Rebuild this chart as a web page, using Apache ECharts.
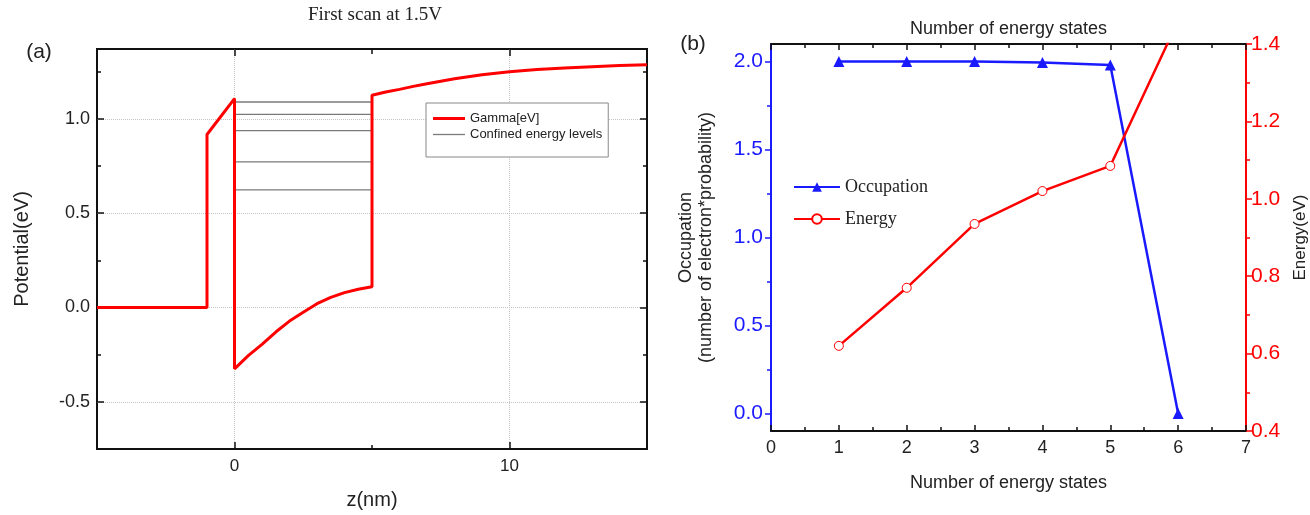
<!DOCTYPE html>
<html><head><meta charset="utf-8">
<script src="https://cdn.jsdelivr.net/npm/echarts@6/dist/echarts.min.js"></script>
<style>html,body{margin:0;padding:0;background:#fff}#c{width:1310px;height:515px}</style>
</head><body><div id="c"></div>
<script>
// ---------- Panel (a) data ----------
const gammaZ = [-5,-1,-1,0,0,0.5,1,1.5,2,2.5,3,3.5,4,4.5,5,5,5.5,6,6.5,7,8,9,10,11,12,13,14,15];
const gammaV = [0,0,0.917,1.107,-0.325,-0.255,-0.195,-0.13,-0.072,-0.025,0.02,0.054,0.079,0.097,0.11,1.125,1.142,1.156,1.172,1.186,1.212,1.234,1.25,1.261,1.269,1.276,1.282,1.286];
const confinedLevels = [0.623,0.772,0.937,1.023,1.089];
const wellEdges = [0,5];
const zTicks = [0,10];
const zMinorTicks = [5];
const potTicks = [-0.5,0,0.5,1.0];
const potMinorTicks = [-0.25,0.25,0.75,1.25];
// ---------- Panel (b) data ----------
const states = [1,2,3,4,5,6];
const occupation = [2.0,2.0,2.0,1.995,1.98,0.0];
const energy = [0.62,0.77,0.935,1.02,1.085,1.46];
const occTicks = [0,0.5,1.0,1.5,2.0];
const occMinorTicks = [0.25,0.75,1.25,1.75];

const SANS = 'Liberation Sans, Arial, sans-serif';
const SERIF = 'Liberation Serif, Times New Roman, serif';
const BLACK = '#111';
const TXT = '#222';
const BLUE = '#1a1aff';
const RED = '#ff0000';
const GRAY = '#7a7a7a';
const dotted = {show:true, lineStyle:{type:'dotted', color:'#c4c4c4', width:1}};

function tickAxis(extra){
  return Object.assign({
    type:'value', axisLine:{show:false, onZero:false},
    axisLabel:{show:false}, splitLine:{show:false}
  }, extra);
}

const chart = echarts.init(document.getElementById('c'), null, {renderer:'canvas'});
const option = {
  animation:false,
  backgroundColor:'#fff',
  title:[
    {text:'First scan at 1.5V', left:375, top:6, textAlign:'center', padding:0,
     textStyle:{fontFamily:SERIF, fontSize:19, fontWeight:'normal', color:TXT}},
    {text:'(a)', left:39, top:42, textAlign:'center', padding:0,
     textStyle:{fontFamily:SANS, fontSize:21, fontWeight:'normal', color:TXT}},
    {text:'(b)', left:693, top:34, textAlign:'center', padding:0,
     textStyle:{fontFamily:SANS, fontSize:21, fontWeight:'normal', color:TXT}}
  ],
  grid:[
    {left:97, top:49, width:550, height:405, show:true, borderColor:BLACK, borderWidth:2, containLabel:false},
    {left:771, top:44, width:475, height:387, show:false, containLabel:false}
  ],
  legend:[
    {data:[{name:'Gamma[eV]', icon:'path://M0,0h32v3h-32z'},
           {name:'Confined energy levels', icon:'path://M0,0h32v1.3h-32z'}],
     orient:'vertical', left:426, top:103,
     itemWidth:32, itemHeight:14, itemGap:3, padding:[9,6,16,7], symbolKeepAspect:true,
     borderColor:'#888', borderWidth:1, backgroundColor:'#fff',
     textStyle:{fontFamily:SANS, fontSize:13, color:TXT}},
    {data:['Occupation','Energy'], orient:'vertical', left:793, top:178,
     itemWidth:46, itemHeight:12, itemGap:14, padding:0,
     textStyle:{fontFamily:SERIF, fontSize:18, color:TXT}}
  ],
  xAxis:[
    // 0: panel a bottom major
    {gridIndex:0, type:'value', min:-5, max:15, position:'bottom',
     axisLine:{show:false, onZero:false},
     axisTick:{inside:true, length:7, customValues:zTicks, lineStyle:{color:BLACK, width:1.5}},
     axisLabel:{customValues:zTicks, margin:9, fontFamily:SANS, fontSize:17, color:TXT},
     splitLine:dotted,
     name:'z(nm)', nameLocation:'middle', nameGap:41,
     nameTextStyle:{fontFamily:SANS, fontSize:20, color:TXT}},
    // 1: panel a bottom minor
    tickAxis({gridIndex:0, min:-5, max:15, position:'bottom',
     axisTick:{inside:true, length:4, customValues:zMinorTicks, lineStyle:{color:BLACK, width:1.5}}}),
    // 2: panel a top major
    tickAxis({gridIndex:0, min:-5, max:15, position:'top',
     axisTick:{inside:true, length:7, customValues:zTicks, lineStyle:{color:BLACK, width:1.5}}}),
    // 3: panel a top minor
    tickAxis({gridIndex:0, min:-5, max:15, position:'top',
     axisTick:{inside:true, length:5, customValues:zMinorTicks, lineStyle:{color:BLACK, width:1.5}}}),
    // 4: panel b bottom
    {gridIndex:1, type:'value', min:0, max:7, interval:1, position:'bottom',
     axisLine:{show:true, onZero:false, lineStyle:{color:BLACK, width:2}},
     axisTick:{inside:true, length:6, lineStyle:{color:BLACK, width:1.5}},
     minorTick:{show:true, splitNumber:2, length:4, lineStyle:{color:BLACK, width:1.5}},
     axisLabel:{margin:8, showMinLabel:true, showMaxLabel:true, fontFamily:SANS, fontSize:18, color:TXT},
     splitLine:{show:false},
     name:'Number of energy states', nameLocation:'middle', nameGap:43,
     nameTextStyle:{fontFamily:SANS, fontSize:18, color:TXT}},
    // 5: panel b top
    {gridIndex:1, type:'value', min:0, max:7, interval:1, position:'top',
     axisLine:{show:true, onZero:false, lineStyle:{color:BLACK, width:2}},
     axisTick:{inside:true, length:6, lineStyle:{color:BLACK, width:1.5}},
     minorTick:{show:true, splitNumber:2, length:4, lineStyle:{color:BLACK, width:1.5}},
     axisLabel:{show:false}, splitLine:{show:false},
     name:'Number of energy states', nameLocation:'middle', nameGap:6,
     nameTextStyle:{fontFamily:SANS, fontSize:18, color:TXT}}
  ],
  yAxis:[
    // 0: panel a left major
    {gridIndex:0, type:'value', min:-0.75, max:1.37, position:'left',
     axisLine:{show:false, onZero:false},
     axisTick:{inside:true, length:7, customValues:potTicks, lineStyle:{color:BLACK, width:1.5}},
     axisLabel:{customValues:potTicks, margin:7, fontFamily:SANS, fontSize:18, color:TXT,
       formatter:v=>Number(v).toFixed(1)},
     splitLine:dotted,
     name:'Potential(eV)', nameLocation:'middle', nameGap:65,
     nameTextStyle:{fontFamily:SANS, fontSize:20, color:TXT}},
    // 1: panel a left minor
    tickAxis({gridIndex:0, min:-0.75, max:1.37, position:'left',
     axisTick:{inside:true, length:4, customValues:potMinorTicks, lineStyle:{color:BLACK, width:1.5}}}),
    // 2: panel a right major
    tickAxis({gridIndex:0, min:-0.75, max:1.37, position:'right',
     axisTick:{inside:true, length:7, customValues:potTicks, lineStyle:{color:BLACK, width:1.5}}}),
    // 3: panel a right minor
    tickAxis({gridIndex:0, min:-0.75, max:1.37, position:'right',
     axisTick:{inside:true, length:4, customValues:potMinorTicks, lineStyle:{color:BLACK, width:1.5}}}),
    // 4: panel b left (occupation)
    {gridIndex:1, type:'value', min:-0.1, max:2.1, position:'left',
     axisLine:{show:true, onZero:false, lineStyle:{color:BLUE, width:2}},
     axisTick:{inside:false, length:6, customValues:occTicks, lineStyle:{color:BLUE, width:1.5}},
     axisLabel:{customValues:occTicks, margin:8, fontFamily:SANS, fontSize:21, color:BLUE,
       formatter:v=>Number(v).toFixed(1)},
     splitLine:{show:false},
     name:'Occupation\n(number of electron*probability)', nameLocation:'middle', nameGap:55,
     nameTextStyle:{fontFamily:SANS, fontSize:18, lineHeight:20, color:TXT}},
    // 5: panel b left minor
    tickAxis({gridIndex:1, min:-0.1, max:2.1, position:'left',
     axisTick:{inside:false, length:4, customValues:occMinorTicks, lineStyle:{color:BLUE, width:1.5}}}),
    // 6: panel b right (energy)
    {gridIndex:1, type:'value', min:0.4, max:1.4, interval:0.2, position:'right',
     axisLine:{show:true, onZero:false, lineStyle:{color:RED, width:2}},
     axisTick:{inside:false, length:6, lineStyle:{color:RED, width:1.5}},
     minorTick:{show:true, splitNumber:2, length:4, lineStyle:{color:RED, width:1.5}},
     axisLabel:{margin:5, showMinLabel:true, showMaxLabel:true, fontFamily:SANS, fontSize:21, color:RED,
       formatter:v=>Number(v).toFixed(1)},
     splitLine:{show:false},
     name:'Energy(eV)', nameLocation:'middle', nameGap:46,
     nameTextStyle:{fontFamily:SANS, fontSize:17, color:TXT}}
  ],
  series:[]
};

// Confined energy levels (drawn below Gamma)
confinedLevels.forEach(e=>{
  option.series.push({
    name:'Confined energy levels', type:'line', xAxisIndex:0, yAxisIndex:0,
    data: wellEdges.map(z=>[z,e]), symbol:'none', silent:true, z:2,
    color:GRAY, itemStyle:{color:GRAY}, lineStyle:{color:GRAY, width:1.3}
  });
});
option.series.push({
  name:'Gamma[eV]', type:'line', xAxisIndex:0, yAxisIndex:0,
  data: gammaZ.map((z,i)=>[z,gammaV[i]]), symbol:'none', z:3,
  color:RED, itemStyle:{color:RED}, lineStyle:{color:RED, width:3}
});
option.series.push({
  name:'Occupation', type:'line', xAxisIndex:4, yAxisIndex:4,
  data: states.map((s,i)=>[s,occupation[i]]),
  symbol:'triangle', symbolSize:11, showSymbol:true, z:4,
  color:BLUE, itemStyle:{color:BLUE}, lineStyle:{color:BLUE, width:2.5}
});
option.series.push({
  name:'Energy', type:'line', xAxisIndex:4, yAxisIndex:6,
  data: states.map((s,i)=>[s,energy[i]]), clip:true,
  symbol:'circle', symbolSize:9, showSymbol:true, z:4,
  color:RED, itemStyle:{color:'#fff', borderColor:RED, borderWidth:1}, lineStyle:{color:RED, width:2.5}
});

chart.setOption(option);
</script>
</body></html>
